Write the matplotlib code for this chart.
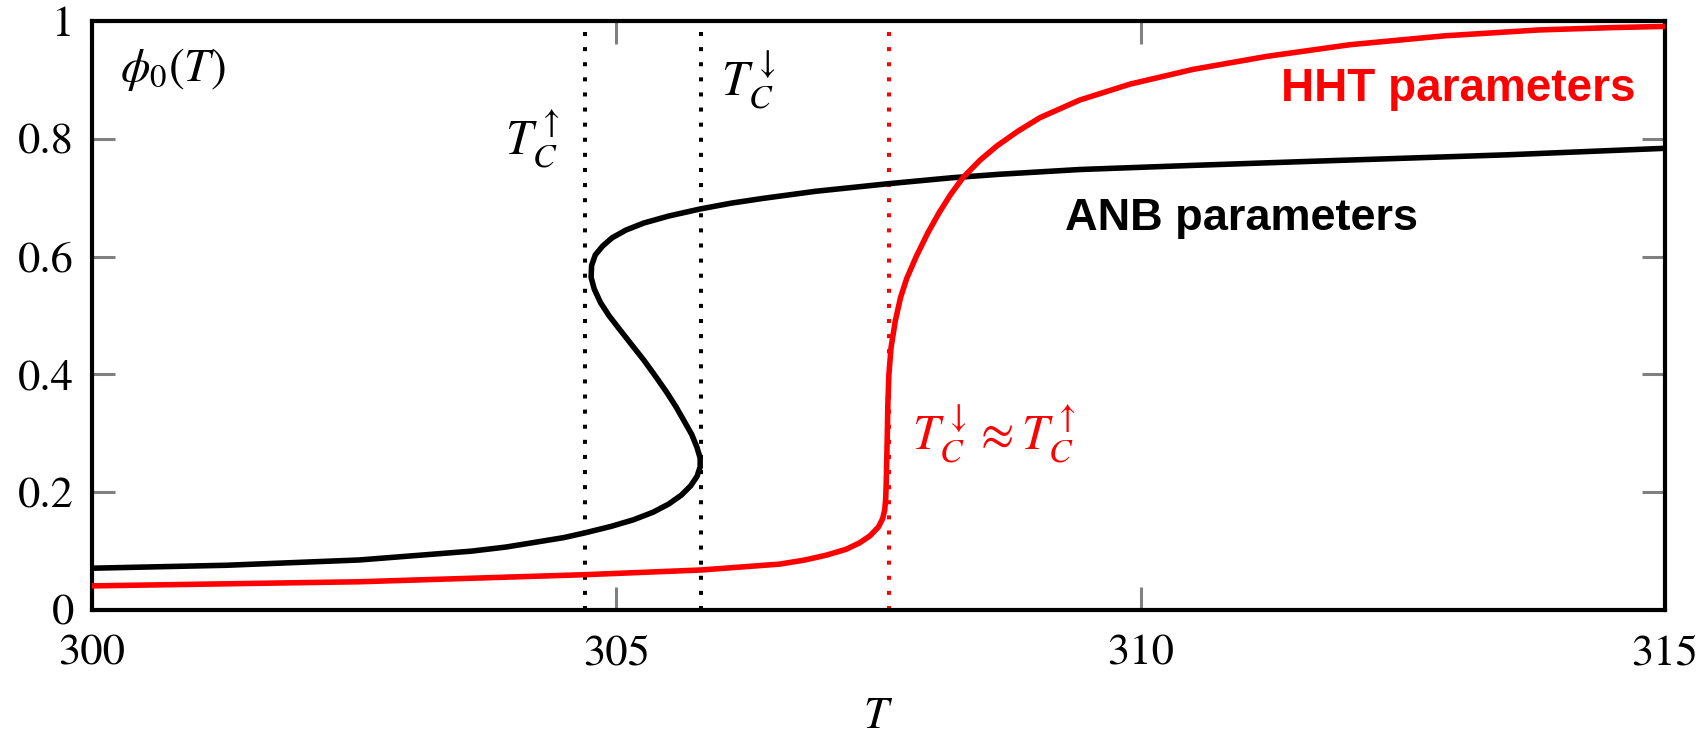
import matplotlib
matplotlib.use("Agg")
import matplotlib.pyplot as plt

# order parameter phi_0(T)
anb_T = [300.00, 301.28, 302.55, 303.62, 303.95, 304.26, 304.50, 304.70, 304.95,
         305.16, 305.35, 305.50, 305.62, 305.71, 305.77, 305.80, 305.80, 305.77,
         305.72, 305.65, 305.57, 305.48, 305.37, 305.26, 305.14, 305.03, 304.93,
         304.85, 304.79, 304.76, 304.765, 304.80, 304.87, 304.96, 305.09, 305.26,
         305.50, 305.80, 306.10, 306.40, 306.90, 307.60, 308.20, 308.66, 309.42,
         310.50, 311.64, 313.50, 315.00]
anb_phi = [0.071, 0.076, 0.085, 0.100, 0.107, 0.116, 0.123, 0.131, 0.142,
           0.153, 0.166, 0.180, 0.195, 0.211, 0.227, 0.243, 0.258, 0.276,
           0.298, 0.320, 0.345, 0.370, 0.398, 0.425, 0.452, 0.477, 0.500,
           0.522, 0.545, 0.565, 0.585, 0.603, 0.618, 0.632, 0.645, 0.657,
           0.669, 0.681, 0.691, 0.699, 0.711, 0.724, 0.734, 0.740, 0.748,
           0.755, 0.762, 0.773, 0.784]

hht_T = [300.00, 302.55, 304.70, 305.81, 306.56, 306.80, 307.00, 307.19, 307.32,
         307.42, 307.50, 307.54, 307.56, 307.57, 307.575, 307.58, 307.585, 307.59,
         307.60, 307.62, 307.66, 307.71, 307.77, 307.86, 307.97, 308.08, 308.19,
         308.31, 308.47, 308.63, 308.83, 309.04, 309.42, 309.90, 310.50, 311.20,
         312.00, 312.90, 313.80, 314.50, 315.00]
hht_phi = [0.041, 0.048, 0.060, 0.068, 0.078, 0.085, 0.093, 0.103, 0.114,
           0.126, 0.141, 0.155, 0.170, 0.190, 0.220, 0.260, 0.300, 0.350,
           0.400, 0.445, 0.490, 0.530, 0.563, 0.600, 0.640, 0.675, 0.706,
           0.735, 0.764, 0.788, 0.813, 0.836, 0.866, 0.893, 0.918, 0.940,
           0.960, 0.975, 0.985, 0.989, 0.991]

# critical temperatures
tc_up_anb = 304.70
tc_down_anb = 305.81
tc_hht = 307.60

xticks = [300, 305, 310, 315]
yticks = [0, 0.2, 0.4, 0.6, 0.8, 1]
ytick_labels = ["0", "0.2", "0.4", "0.6", "0.8", "1"]

plt.rcParams["mathtext.fontset"] = "stix"
plt.rcParams["font.family"] = "STIXGeneral"

fig = plt.figure(figsize=(17.06, 7.38), dpi=100)
ax = fig.add_axes([0.0539, 0.1734, 0.922, 0.798])

dots = (0, (1, 2.75))
for t in (tc_up_anb, tc_down_anb):
    ax.axvline(t, color="black", lw=2.9, linestyle=dots, dash_capstyle="butt", zorder=1)
ax.axvline(tc_hht, color="red", lw=2.9, linestyle=dots, dash_capstyle="butt", zorder=1)

ax.plot(anb_T, anb_phi, color="black", lw=4.0, solid_joinstyle="round", zorder=3)
ax.plot(hht_T, hht_phi, color="red", lw=4.0, solid_joinstyle="round", zorder=4)

ax.set_xlim(300, 315)
ax.set_ylim(0, 1)
ax.set_xticks(xticks)
ax.set_yticks(yticks)
ax.set_yticklabels(ytick_labels)
ax.tick_params(direction="in", length=16.5, width=2.2, color="#808080",
               labelsize=32, top=True, right=True)
ax.tick_params(axis="x", pad=18)
ax.tick_params(axis="y", pad=13)
for s in ax.spines.values():
    s.set_linewidth(3.0)

ax.set_xlabel(r"$T$", fontsize=32, labelpad=18)

ax.text(300.27, 0.917, r"$\phi_0(T)$", fontsize=34, ha="left", va="center")
ax.text(304.2, 0.80, r"$T_C^{\uparrow}$", fontsize=35, ha="center", va="center")
ax.text(306.26, 0.90, r"$T_C^{\downarrow}$", fontsize=35, ha="center", va="center")
ax.text(307.82, 0.30, r"$T_C^{\downarrow} \approx T_C^{\uparrow}$", fontsize=35,
        color="red", ha="left", va="center")

ax.text(310.96, 0.665, "ANB parameters", fontsize=32.5, fontweight="bold",
        family="Liberation Sans", ha="center", va="center")
ax.text(314.72, 0.884, "HHT parameters", fontsize=33, fontweight="bold",
        family="Liberation Sans", color="red", ha="right", va="center")

fig.savefig("out.png", dpi=100)
